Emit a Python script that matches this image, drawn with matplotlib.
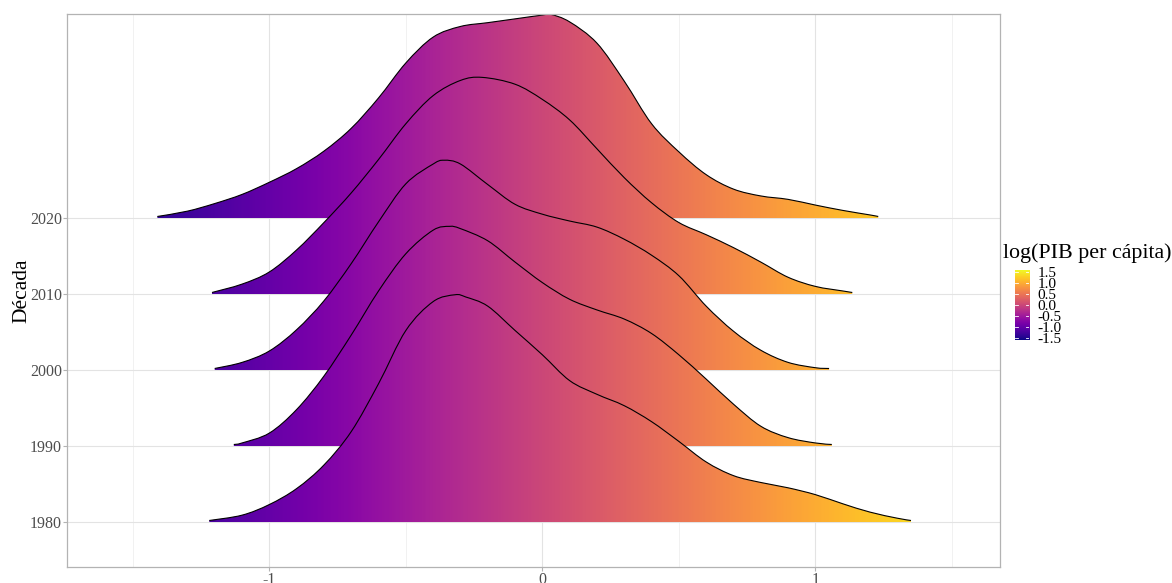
"""
Ridgeline chart: log(PIB per cápita) por década, relleno en degradado plasma.
Writes: out.png
"""
import numpy as np
import matplotlib
matplotlib.use("Agg")
import matplotlib.pyplot as plt
from matplotlib.colors import Normalize
from matplotlib.patches import PathPatch
from matplotlib.path import Path

plt.rcParams["font.family"] = ["Liberation Serif", "DejaVu Serif"]

BG = "#ffffff"
GRID_MAJOR = "#e3e3e3"
GRID_MINOR = "#efefef"
BORDER = "#b3b3b3"
TICK_TXT = "#4d4d4d"

decades = ["1980", "1990", "2000", "2010", "2020"]

# altura de cada cresta, en unidades de separación entre décadas
x_1980 = [-1.22, -1.1, -1.0, -0.9, -0.8, -0.7, -0.6, -0.5, -0.4, -0.32, -0.28,
          -0.2, -0.1, 0.0, 0.1, 0.2, 0.3, 0.4, 0.5, 0.6, 0.7, 0.8, 0.9, 1.0, 1.1,
          1.2, 1.3, 1.35]
h_1980 = [0.02, 0.09, 0.23, 0.44, 0.75, 1.19, 1.82, 2.52, 2.90, 2.99, 2.96,
          2.84, 2.52, 2.20, 1.86, 1.68, 1.53, 1.32, 1.06, 0.79, 0.61, 0.52, 0.45, 0.36, 0.24,
          0.13, 0.05, 0.02]

x_1990 = [-1.13, -1.1, -1.0, -0.9, -0.8, -0.7, -0.6, -0.5, -0.4, -0.34, -0.3,
          -0.2, -0.1, 0.0, 0.1, 0.2, 0.3, 0.4, 0.5, 0.6, 0.7, 0.8, 0.9, 1.0, 1.06]
h_1990 = [0.02, 0.04, 0.17, 0.48, 0.92, 1.46, 2.04, 2.53, 2.84, 2.89, 2.86,
          2.70, 2.42, 2.15, 1.93, 1.79, 1.67, 1.48, 1.20, 0.88, 0.55, 0.26, 0.11, 0.04, 0.02]

x_2000 = [-1.2, -1.1, -1.0, -0.9, -0.8, -0.7, -0.6, -0.5, -0.4, -0.36, -0.3,
          -0.2, -0.1, 0.0, 0.1, 0.2, 0.3, 0.4, 0.5, 0.6, 0.7, 0.8, 0.9, 1.0, 1.05]
h_2000 = [0.02, 0.10, 0.25, 0.53, 0.91, 1.40, 1.95, 2.45, 2.71, 2.76, 2.71,
          2.44, 2.18, 2.05, 1.96, 1.88, 1.72, 1.51, 1.24, 0.84, 0.51, 0.26, 0.10, 0.03, 0.02]

x_2010 = [-1.21, -1.1, -1.0, -0.9, -0.8, -0.7, -0.6, -0.5, -0.4, -0.3, -0.22,
          -0.1, 0.0, 0.1, 0.2, 0.3, 0.4, 0.5, 0.6, 0.7, 0.8, 0.9, 1.0, 1.1, 1.135]
h_2010 = [0.02, 0.13, 0.29, 0.58, 0.94, 1.33, 1.77, 2.24, 2.61, 2.81, 2.85,
          2.76, 2.56, 2.29, 1.91, 1.53, 1.20, 0.94, 0.78, 0.61, 0.42, 0.22, 0.10, 0.04, 0.02]

x_2020 = [-1.41, -1.3, -1.2, -1.1, -1.0, -0.9, -0.8, -0.7, -0.6, -0.5, -0.4, -0.3,
          -0.2, -0.1, 0.0, 0.03, 0.1, 0.2, 0.3, 0.4, 0.5, 0.6, 0.7, 0.8, 0.9, 1.0,
          1.1, 1.2, 1.23]
h_2020 = [0.02, 0.09, 0.19, 0.31, 0.47, 0.65, 0.88, 1.18, 1.58, 2.04, 2.38, 2.52,
          2.57, 2.62, 2.67, 2.68, 2.58, 2.30, 1.80, 1.24, 0.87, 0.57, 0.38, 0.29, 0.245, 0.17,
          0.10, 0.04, 0.02]

ridges = {
    "1980": (x_1980, h_1980),
    "1990": (x_1990, h_1990),
    "2000": (x_2000, h_2000),
    "2010": (x_2010, h_2010),
    "2020": (x_2020, h_2020),
}

legend_ticks = [-1.5, -1.0, -0.5, 0.0, 0.5, 1.0, 1.5]
x_ticks = [-1, 0, 1]
x_minor = [-1.5, -0.5, 0.5, 1.5]

CMAP = plt.get_cmap("plasma")
NORM = Normalize(-1.6, 1.6)


def smooth_segments(pts):
    # curva suave (Catmull-Rom como Bézier cúbicas) que pasa por los puntos leídos
    verts, codes = [], []
    n = len(pts)
    for i in range(n - 1):
        p0 = pts[max(i - 1, 0)]
        p1 = pts[i]
        p2 = pts[i + 1]
        p3 = pts[min(i + 2, n - 1)]
        c1 = p1 + (p2 - p0) / 6.0
        c2 = p2 - (p3 - p1) / 6.0
        verts += [tuple(c1), tuple(c2), tuple(p2)]
        codes += [Path.CURVE4] * 3
    return verts, codes


def draw_ridge(ax, level, xs, hs, z):
    pts = np.column_stack([xs, level + np.asarray(hs)])
    sv, sc = smooth_segments(pts)

    fill_verts = [(xs[0], level), tuple(pts[0])] + sv + [(xs[-1], level), (xs[0], level)]
    fill_codes = [Path.MOVETO, Path.LINETO] + sc + [Path.LINETO, Path.CLOSEPOLY]
    patch = PathPatch(Path(fill_verts, fill_codes), facecolor="none", edgecolor="none", zorder=z)
    ax.add_patch(patch)

    grad = np.linspace(NORM.vmin, NORM.vmax, 600).reshape(1, -1)
    im = ax.imshow(grad, cmap=CMAP, norm=NORM, aspect="auto", origin="lower",
                   extent=(NORM.vmin, NORM.vmax, level, level + max(hs) + 0.1),
                   interpolation="bilinear", zorder=z)
    im.set_clip_path(patch)

    line = Path([tuple(pts[0])] + sv, [Path.MOVETO] + sc)
    ax.add_patch(PathPatch(line, facecolor="none", edgecolor="black", lw=0.8,
                           zorder=z + 0.5, capstyle="butt"))


def main():
    fig = plt.figure(figsize=(11.72, 5.83), dpi=100, facecolor=BG)
    ax = fig.add_axes([67 / 1172, 1 - 567 / 583, (1000 - 67) / 1172, (567 - 14) / 583])
    ax.set_facecolor(BG)

    for v in x_minor:
        ax.axvline(v, color=GRID_MINOR, lw=0.6, zorder=0)
    for v in x_ticks:
        ax.axvline(v, color=GRID_MAJOR, lw=0.8, zorder=0)
    for i in range(len(decades)):
        ax.axhline(i, color=GRID_MAJOR, lw=0.8, zorder=0)

    # de arriba hacia abajo: las crestas inferiores se dibujan encima
    for k, dec in enumerate(reversed(decades)):
        level = decades.index(dec)
        xs, hs = ridges[dec]
        draw_ridge(ax, level, xs, hs, z=2 + k)

    ax.set_xlim(-1.741, 1.676)
    ax.set_ylim(-0.592, 6.684)
    ax.set_xticks(x_ticks)
    ax.set_xticklabels([str(v) for v in x_ticks])
    ax.set_yticks(range(len(decades)))
    ax.set_yticklabels(decades)
    ax.tick_params(axis="both", colors=BORDER, labelcolor=TICK_TXT, labelsize=11.5,
                   length=2.9, width=0.8, pad=0.8)
    for sp in ax.spines.values():
        sp.set_color(BORDER)
        sp.set_linewidth(0.9)
    ax.set_ylabel("Década", fontsize=15.5, color="black")
    ax.yaxis.set_label_coords((31 - 67) / 933, 0.5)

    # barra de color
    cax = fig.add_axes([1015 / 1172, 1 - 340 / 583, 14 / 1172, 70 / 583])
    grad = np.linspace(NORM.vmin, NORM.vmax, 300).reshape(-1, 1)
    cax.imshow(grad, cmap=CMAP, norm=NORM, aspect="auto", origin="lower",
               extent=(0, 1, NORM.vmin, NORM.vmax))
    cax.set_xlim(0, 1)
    cax.set_ylim(NORM.vmin, NORM.vmax)
    for v in legend_ticks:
        cax.plot([0, 0.2], [v, v], color="white", lw=0.6)
        cax.plot([0.8, 1], [v, v], color="white", lw=0.6)
    cax.set_xticks([])
    cax.yaxis.tick_right()
    cax.set_yticks(legend_ticks)
    cax.set_yticklabels([f"{v:.1f}" for v in legend_ticks], fontsize=11, color="black")
    cax.tick_params(axis="y", length=0, pad=6)
    for sp in cax.spines.values():
        sp.set_visible(False)
    for lbl in cax.get_yticklabels():
        lbl.set_horizontalalignment("left")
    fig.text(1003 / 1172, 1 - 253 / 583, "log(PIB per cápita)", ha="left", va="center",
             fontsize=15.8, color="black")

    fig.savefig("out.png", dpi=100, facecolor=BG)
    plt.close(fig)


if __name__ == "__main__":
    main()
